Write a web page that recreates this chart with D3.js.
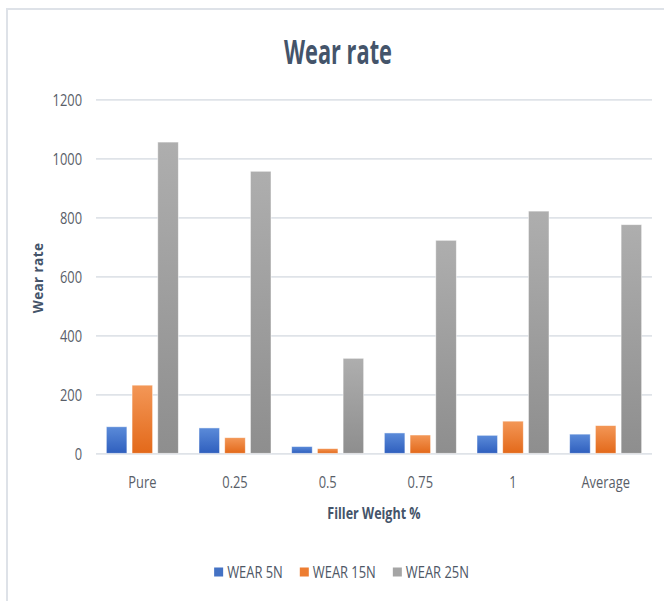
<!DOCTYPE html>
<html>
<head>
<meta charset="utf-8">
<script src="https://cdn.jsdelivr.net/npm/d3@7"></script>
<style>
  html, body { margin: 0; padding: 0; background: #ffffff; }
  svg { display: block; }
  text { font-family: "Open Sans", "Noto Sans", sans-serif; }
</style>
</head>
<body>
<svg id="chart" width="664" height="601"></svg>
<script>
// Wear rate by filler weight, three loads
const categories = ["Pure", "0.25", "0.5", "0.75", "1", "Average"];
const seriesNames = ["WEAR 5N", "WEAR 15N", "WEAR 25N"];
const wear5N  = [90, 86, 23, 69, 61, 65];
const wear15N = [231, 53, 16, 62, 109, 94];
const wear25N = [1055, 956, 322, 722, 821, 775];
const yTicks = [0, 200, 400, 600, 800, 1000, 1200];

const seriesValues = [wear5N, wear15N, wear25N];
const gradStops = [
  ["#5B8BD9", "#2F5FBE"],
  ["#F39757", "#E3691A"],
  ["#AEAEAE", "#8E8E8E"]
];
const swatch = ["#4472C4", "#ED7D31", "#A5A5A5"];

const svg = d3.select("#chart");
const W = 664, H = 601;
const plot = { left: 96, right: 652, top: 99.3, bottom: 453.3 };

// outer chart frame
svg.append("rect")
  .attr("x", 7).attr("y", 9)
  .attr("width", W + 10).attr("height", H + 10)
  .attr("fill", "#ffffff")
  .attr("stroke", "#DEE2E8").attr("stroke-width", 2);

// gradients for the bars
const defs = svg.append("defs");
gradStops.forEach((s, i) => {
  const g = defs.append("linearGradient")
    .attr("id", "grad" + i)
    .attr("x1", 0).attr("y1", 0).attr("x2", 0).attr("y2", 1);
  g.append("stop").attr("offset", "0%").attr("stop-color", s[0]);
  g.append("stop").attr("offset", "100%").attr("stop-color", s[1]);
});

const x = d3.scaleBand()
  .domain(categories)
  .range([plot.left, plot.right])
  .paddingInner(0.223)
  .paddingOuter(0.1115);

const xs = d3.scaleBand()
  .domain(seriesNames)
  .range([0, x.bandwidth()])
  .paddingInner(0.2);

const y = d3.scaleLinear()
  .domain([0, 1200])
  .range([plot.bottom, plot.top]);

// y axis: gridlines + labels
const labelColor = "#595E68";
const yAxis = svg.append("g")
  .attr("transform", `translate(${plot.left},0)`)
  .call(d3.axisLeft(y)
    .tickValues(yTicks)
    .tickSize(-(plot.right - plot.left))
    .tickPadding(14)
    .tickFormat(d3.format("d")));
yAxis.select(".domain").remove();
yAxis.selectAll(".tick line")
  .attr("stroke", "#DFE3E8").attr("stroke-width", 1.8);
const tickScale = 0.78;
yAxis.selectAll(".tick text")
  .attr("font-size", 16.5)
  .attr("fill", labelColor)
  .attr("x", -14 / tickScale)
  .attr("dy", "0.36em")
  .attr("transform", `scale(${tickScale},1)`);

// bars
const groups = svg.append("g").selectAll("g")
  .data(categories)
  .join("g")
  .attr("transform", d => `translate(${x(d)},0)`);

groups.selectAll("rect")
  .data((d, ci) => seriesNames.map((s, si) => ({ s, si, v: seriesValues[si][ci] })))
  .join("rect")
  .attr("x", d => xs(d.s))
  .attr("y", d => y(d.v))
  .attr("width", xs.bandwidth())
  .attr("height", d => y(0) - y(d.v))
  .attr("fill", d => `url(#grad${d.si})`)
  .attr("stroke", "#ffffff")
  .attr("stroke-opacity", 0.6)
  .attr("stroke-width", 0.8);

// x axis labels
const xAxis = svg.append("g")
  .attr("transform", `translate(0,${plot.bottom})`)
  .call(d3.axisBottom(x).tickSize(0).tickPadding(0));
xAxis.select(".domain").remove();
const catScale = 0.78;
xAxis.selectAll(".tick text")
  .attr("font-size", 16.5)
  .attr("fill", labelColor)
  .attr("y", 34.5)
  .attr("dy", 0)
  .attr("transform", `scale(${catScale},1)`);

// title
svg.append("g")
  .attr("transform", "translate(338,64) scale(0.64,1)")
  .append("text")
  .attr("text-anchor", "middle")
  .attr("font-size", 34)
  .attr("font-weight", 700)
  .attr("fill", "#44546A")
  .text("Wear rate");

// axis titles
svg.append("g")
  .attr("transform", "translate(374,519) scale(0.76,1)")
  .append("text")
  .attr("text-anchor", "middle")
  .attr("font-size", 16.5)
  .attr("font-weight", 700)
  .attr("fill", "#44546A")
  .text("Filler Weight %");

svg.append("text")
  .attr("transform", "translate(43,278) rotate(-90)")
  .attr("text-anchor", "middle")
  .attr("font-size", 13.5)
  .attr("font-weight", 700)
  .attr("letter-spacing", 0.4)
  .attr("fill", "#44546A")
  .text("Wear rate");

// legend
const legScale = 0.76;
const legend = svg.append("g").attr("transform", "translate(0,572)");
const items = legend.selectAll("g")
  .data(seriesNames)
  .join("g");
items.append("rect")
  .attr("width", 9).attr("height", 9)
  .attr("y", -4.5)
  .attr("fill", (d, i) => swatch[i]);
items.append("g")
  .attr("transform", `translate(13,0) scale(${legScale},1)`)
  .append("text")
  .attr("font-size", 17)
  .attr("dy", "0.36em")
  .attr("fill", "#4E5766")
  .text(d => d);

// place legend items side by side, centred under the plot
let cursor = 0;
const offsets = [];
items.each(function() {
  const w = 13 + this.querySelector("text").getComputedTextLength() * legScale;
  offsets.push(cursor);
  cursor += w + 17;
});
const total = cursor - 17;
const start = 341.5 - total / 2;
items.attr("transform", (d, i) => `translate(${start + offsets[i]},0)`);
</script>
</body>
</html>
